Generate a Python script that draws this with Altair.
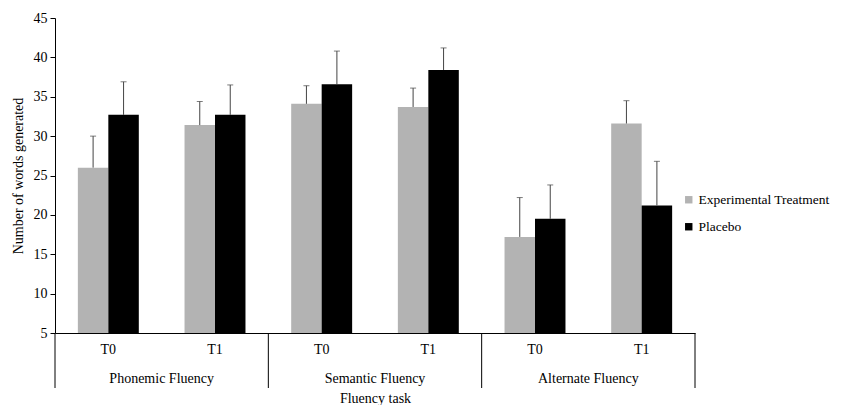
import altair as alt
import pandas as pd

tasks = ["Phonemic Fluency", "Semantic Fluency", "Alternate Fluency"]
times = ["T0", "T1"]
series = ["Experimental Treatment", "Placebo"]
exp_mean = [26.0, 31.4, 34.1, 33.7, 17.2, 31.6]
exp_err = [4.0, 3.0, 2.3, 2.4, 5.0, 2.9]
pla_mean = [32.7, 32.7, 36.6, 38.4, 19.5, 21.2]
pla_err = [4.2, 3.8, 4.2, 2.8, 4.3, 5.6]
y_ticks = [5, 10, 15, 20, 25, 30, 35, 40, 45]

rows = []
cats = []
i = 0
for t in tasks:
    for tm in times:
        key = f"{t}|{tm}"
        cats.append(key)
        rows.append(dict(cat=key, series=series[0], mean=exp_mean[i], upper=exp_mean[i] + exp_err[i]))
        rows.append(dict(cat=key, series=series[1], mean=pla_mean[i], upper=pla_mean[i] + pla_err[i]))
        i += 1
df = pd.DataFrame(rows)
groups = pd.DataFrame(dict(task=tasks, first=[f"{t}|T0" for t in tasks]))
left_edges = pd.DataFrame(dict(cat=[f"{t}|T0" for t in tasks]))
right_edges = pd.DataFrame(dict(cat=[f"{tasks[-1]}|T1"]))

FONT = "Liberation Serif"
FS = 14
xscale = alt.Scale(domain=cats, paddingInner=0, paddingOuter=0)
offscale = alt.Scale(domain=series, paddingInner=0, paddingOuter=0.75)
yscale = alt.Scale(domain=[5, 45], nice=False, zero=False)

x_enc = alt.X("cat:N", scale=xscale, sort=cats,
              axis=alt.Axis(title="Fluency task", labelExpr="split(datum.label, '|')[1]",
                            labelAngle=0, ticks=False, labelPadding=9, titlePadding=35,
                            domainColor="#000", labelFont=FONT, titleFont=FONT,
                            labelFontSize=FS, titleFontSize=FS, titleFontWeight="normal",
                            labelColor="#000", titleColor="#000"))

y_axis = alt.Axis(title="Number of words generated", values=y_ticks,
                  grid=False, tickSize=5, tickColor="#000", domainColor="#000",
                  labelOverlap=False,
                  labelFont=FONT, titleFont=FONT, labelFontSize=FS, titleFontSize=FS,
                  titleFontWeight="normal", labelColor="#000", titleColor="#000",
                  titlePadding=8, labelPadding=3)

bars = alt.Chart(df).mark_bar().encode(
    x=x_enc,
    xOffset=alt.XOffset("series:N", scale=offscale, sort=series),
    y=alt.Y("mean:Q", scale=yscale, axis=y_axis),
    y2=alt.datum(5),
    color=alt.Color("series:N", sort=series,
                    scale=alt.Scale(domain=series, range=["#b3b3b3", "#000000"]),
                    legend=alt.Legend(title=None, orient="none", legendX=627, legendY=175,
                                      symbolType="square", symbolSize=55, labelFont=FONT,
                                      labelFontSize=13.5, labelColor="#000", rowPadding=12,
                                      symbolStrokeWidth=0, labelOffset=3, labelLimit=300)),
)

err = alt.Chart(df).mark_rule(color="#444", strokeWidth=1).encode(
    x=alt.X("cat:N", scale=xscale, sort=cats),
    xOffset=alt.XOffset("series:N", scale=offscale, sort=series, bandPosition=0.5),
    y=alt.Y("mean:Q", scale=yscale, axis=y_axis),
    y2="upper:Q",
)
caps = alt.Chart(df).mark_tick(color="#444", thickness=1, size=6, orient="horizontal").encode(
    x=alt.X("cat:N", scale=xscale, sort=cats),
    xOffset=alt.XOffset("series:N", scale=offscale, sort=series, bandPosition=0.5),
    y=alt.Y("upper:Q", scale=yscale, axis=y_axis),
)

seps_l = alt.Chart(left_edges).mark_rule(color="#000", strokeWidth=1).encode(
    x=alt.X("cat:N", scale=xscale, sort=cats, bandPosition=0),
    y=alt.value(315), y2=alt.value(370),
)
seps_r = alt.Chart(right_edges).mark_rule(color="#000", strokeWidth=1).encode(
    x=alt.X("cat:N", scale=xscale, sort=cats, bandPosition=1),
    y=alt.value(315), y2=alt.value(370),
)
glabels = alt.Chart(groups).mark_text(font=FONT, fontSize=FS, color="#000", baseline="middle").encode(
    x=alt.X("first:N", scale=xscale, sort=cats, bandPosition=1),
    y=alt.value(361),
    text="task:N",
)

chart = alt.layer(bars, err, caps, seps_l, seps_r, glabels).properties(
    width=640, height=315,
    padding={"left": 47, "top": 10, "right": 140, "bottom": 72},
    autosize=alt.AutoSizeParams(type="none"),
    background="white",
).configure_view(stroke=None).configure_axisY(labelOverlap=False)

chart.save("out.html", embed_options={"renderer": "svg", "actions": False})
